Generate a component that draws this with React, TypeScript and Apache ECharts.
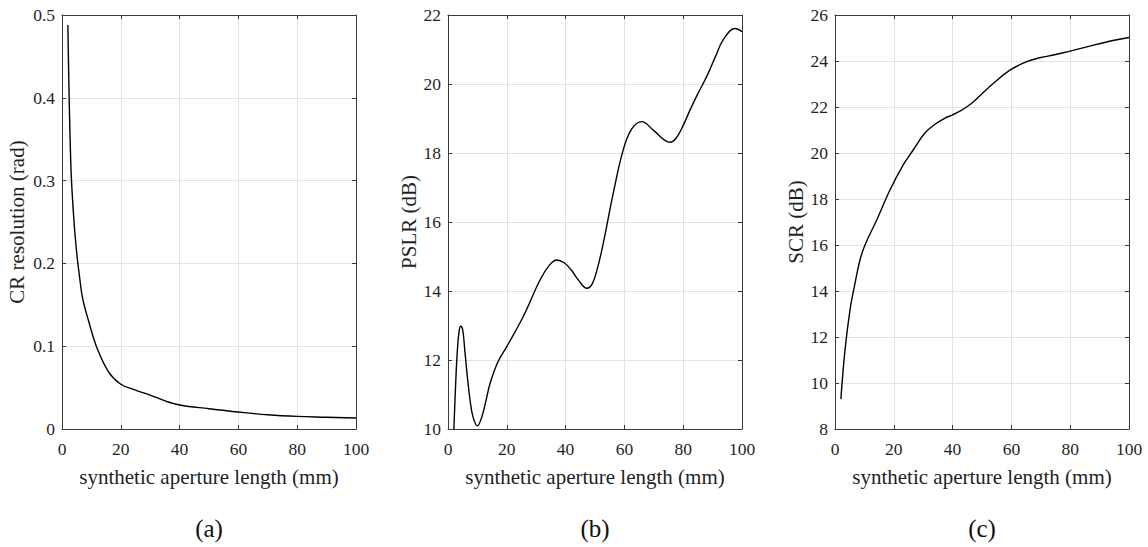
import React, { useEffect, useRef } from "react";
import * as echarts from "echarts";

// ---- data ----
const crX = [2, 3, 4, 5, 6, 7, 9, 12, 16, 20, 25, 30, 35, 40, 50, 60, 70, 80, 90, 100];
const crY = [0.488, 0.32, 0.255, 0.213, 0.183, 0.158, 0.131, 0.097, 0.068, 0.054, 0.047, 0.041, 0.034, 0.029, 0.0245, 0.0205, 0.0172, 0.0152, 0.0142, 0.0132];

const pslrX = [2, 2.6, 3.2, 3.8, 4.3, 5, 5.8, 6.6, 7.5, 8.5, 10, 11.5, 13, 14.3, 17, 20, 25.6, 31.3, 34.5, 37, 39.5, 42, 44.5, 47.2, 49, 50.8, 52.8, 56.2, 59.6, 62.5, 65.9, 70, 75.5, 77.5, 80, 82.5, 85, 88, 91, 93.6, 97.6, 100];
const pslrY = [10, 11.3, 12.3, 12.85, 12.98, 12.87, 12.2, 11.5, 10.84, 10.35, 10.09, 10.35, 10.85, 11.32, 11.95, 12.39, 13.26, 14.32, 14.75, 14.9, 14.82, 14.6, 14.3, 14.08, 14.2, 14.65, 15.38, 16.83, 18.09, 18.7, 18.91, 18.65, 18.31, 18.42, 18.8, 19.28, 19.72, 20.22, 20.8, 21.28, 21.61, 21.52];

const scrX = [2, 3.4, 5.1, 6.8, 8.5, 10.2, 14.2, 18.7, 23.2, 26.6, 30.5, 34, 37.3, 40, 42.5, 45, 47.5, 50, 53.9, 59.5, 65.2, 70, 74.3, 79.3, 84, 90.6, 95, 100];
const scrY = [9.3, 11.43, 13.17, 14.33, 15.35, 16.0, 17.09, 18.39, 19.48, 20.13, 20.86, 21.25, 21.51, 21.66, 21.82, 22.02, 22.27, 22.58, 23.03, 23.6, 23.97, 24.15, 24.26, 24.41, 24.56, 24.77, 24.9, 25.02];

const xRange = [0, 100, 20];
const yRanges = [
  [0, 0.5, 0.1],
  [10, 22, 2],
  [8, 26, 2],
];
const yNames = ["CR resolution (rad)", "PSLR (dB)", "SCR (dB)"];
const xName = "synthetic aperture length (mm)";
const panelLabels = ["(a)", "(b)", "(c)"];

const FONT = "'Liberation Serif', 'Times New Roman', serif";
const AXIS_COLOR = "#3a3a3a";
const TEXT_COLOR = "#1f1f1f";

export default function App() {
  const ref = useRef<HTMLDivElement>(null);

  useEffect(() => {
    if (!ref.current) return;
    const chart = echarts.init(ref.current, undefined, { renderer: "svg" });

    const lefts = [62, 448, 835];
    const plotW = 294;
    const top = 15;
    const plotH = 414;
    const nameGaps = [35, 29, 29];
    const datasets = [
      [crX, crY],
      [pslrX, pslrY],
      [scrX, scrY],
    ];

    const grid: any[] = [];
    const xAxis: any[] = [];
    const yAxis: any[] = [];
    const series: any[] = [];
    const graphic: any[] = [];

    lefts.forEach((left, i) => {
      grid.push({ left, top, width: plotW, height: plotH, containLabel: false });
      const [ymin, ymax, yint] = yRanges[i];
      xAxis.push({
        type: "value",
        gridIndex: i,
        position: "bottom",
        min: xRange[0],
        max: xRange[1],
        interval: xRange[2],
        name: xName,
        nameLocation: "middle",
        nameGap: 37,
        nameTextStyle: { fontFamily: FONT, fontSize: 21, color: TEXT_COLOR },
        axisLine: { show: true, onZero: false, lineStyle: { color: AXIS_COLOR, width: 1 } },
        axisTick: { show: true, inside: true, length: 4, lineStyle: { color: AXIS_COLOR } },
        axisLabel: { fontFamily: FONT, fontSize: 17.5, color: TEXT_COLOR, margin: 11 },
        splitLine: { show: true, lineStyle: { color: "#e3e3e3", width: 1 } },
      });
      xAxis.push({
        type: "value",
        gridIndex: i,
        position: "top",
        min: xRange[0],
        max: xRange[1],
        interval: xRange[2],
        axisLine: { show: true, onZero: false, lineStyle: { color: AXIS_COLOR, width: 1 } },
        axisTick: { show: true, inside: true, length: 4, lineStyle: { color: AXIS_COLOR } },
        axisLabel: { show: false },
        splitLine: { show: false },
      });
      yAxis.push({
        type: "value",
        gridIndex: i,
        position: "left",
        min: ymin,
        max: ymax,
        interval: yint,
        name: yNames[i],
        nameLocation: "middle",
        nameGap: nameGaps[i],
        nameTextStyle: { fontFamily: FONT, fontSize: 21, color: TEXT_COLOR },
        axisLine: { show: true, onZero: false, lineStyle: { color: AXIS_COLOR, width: 1 } },
        axisTick: { show: true, inside: true, length: 4, lineStyle: { color: AXIS_COLOR } },
        axisLabel: { fontFamily: FONT, fontSize: 17.5, color: TEXT_COLOR, margin: 7 },
        splitLine: { show: true, lineStyle: { color: "#e3e3e3", width: 1 } },
      });
      yAxis.push({
        type: "value",
        gridIndex: i,
        position: "right",
        min: ymin,
        max: ymax,
        interval: yint,
        axisLine: { show: true, onZero: false, lineStyle: { color: AXIS_COLOR, width: 1 } },
        axisTick: { show: true, inside: true, length: 4, lineStyle: { color: AXIS_COLOR } },
        axisLabel: { show: false },
        splitLine: { show: false },
      });

      const [xs, ys] = datasets[i];
      series.push({
        type: "line",
        xAxisIndex: i * 2,
        yAxisIndex: i * 2,
        data: xs.map((x, k) => [x, ys[k]]),
        showSymbol: false,
        smooth: 0.4,
        lineStyle: { color: "#000000", width: 1.4 },
        clip: true,
      });

      graphic.push({
        type: "text",
        x: left + plotW / 2,
        y: 528,
        style: {
          text: panelLabels[i],
          font: `25px ${FONT}`,
          fill: "#111111",
          align: "center",
          verticalAlign: "middle",
        },
      });
    });

    chart.setOption({
      animation: false,
      backgroundColor: "#ffffff",
      grid,
      xAxis,
      yAxis,
      series,
      graphic,
    });

    return () => chart.dispose();
  }, []);

  return (
    <div
      ref={ref}
      style={{ position: "absolute", left: 0, top: 0, width: 1148, height: 547 }}
    />
  );
}
